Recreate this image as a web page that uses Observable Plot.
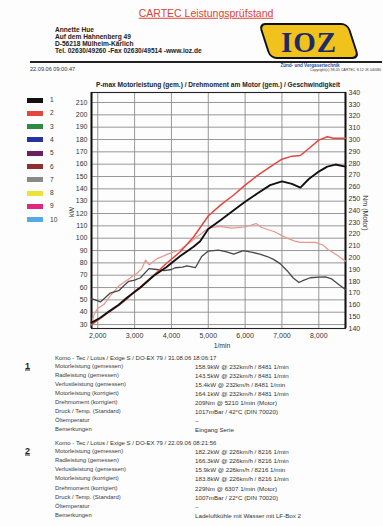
<!DOCTYPE html>
<html><head><meta charset="utf-8">
<script src="https://cdn.jsdelivr.net/npm/d3@7"></script>
<script src="https://cdn.jsdelivr.net/npm/@observablehq/plot@0.6"></script>
<style>
html,body{margin:0;padding:0;background:#fff;}
#page{position:relative;width:383px;height:526px;overflow:hidden;background:#fdfdfd;font-family:"Liberation Sans",Arial,sans-serif;color:#333;}
.t{position:absolute;white-space:nowrap;line-height:1;transform:translateY(-50%);}
.c{transform:translate(-50%,-50%);}
#chart{position:absolute;left:0;top:88px;}
</style></head>
<body><div id="page"><div id="chart"></div></div>
<script>
// ---------- data ----------
const rpmTicks = [2000, 3000, 4000, 5000, 6000, 7000, 8000];
const kwTicks = [30, 40, 50, 60, 70, 80, 90, 100, 110, 120, 130, 140, 150, 160, 170, 180, 190, 200, 210];
const nmTicks = [140, 150, 160, 170, 180, 190, 200, 210, 220, 230, 240, 250, 260, 270, 280, 290, 300, 310, 320, 330, 340];
const legendLabels = ["1","2","3","4","5","6","7","8","9","10"];
const legendColors = ["#111111","#e4473e","#2f8a45","#26339e","#6a1f62","#8e2f2c","#8a8a8a","#ece23a","#e0267e","#55a9e6"];

// Run 1 (black): engine power kW
const rpmPower1 = [1830, 2070, 2300, 2570, 2800, 3160, 3520, 3860, 4240, 4600, 4780, 5000, 5330, 5690, 6000, 6320, 6680, 7000, 7270, 7500, 7730, 8000, 8230, 8450, 8725];
const kwPower1  = [31.6, 35.5, 40.5, 46, 52, 60, 69.5, 76.5, 85.5, 93, 97.5, 107.5, 114.6, 122.7, 129.5, 136, 143, 146, 144, 141, 148, 154, 158, 159.7, 158];
// Run 2 (red): engine power kW
const rpmPower2 = [1830, 2070, 2300, 2570, 2800, 3000, 3160, 3520, 3860, 4240, 4600, 5000, 5330, 5690, 6000, 6320, 6680, 7000, 7270, 7500, 7730, 8000, 8230, 8400, 8725];
const kwPower2  = [30, 35, 40, 45.5, 51, 57, 60.5, 70, 79.5, 89, 101, 118, 126.8, 135, 143, 150.5, 157.8, 164, 166.5, 167, 172.7, 179.5, 182.2, 181, 181];
// Run 1 torque Nm
const rpmTorque1 = [1830, 1950, 2070, 2200, 2340, 2450, 2570, 2700, 2840, 3000, 3160, 3390, 3600, 3800, 4000, 4100, 4300, 4420, 4650, 4820, 5000, 5280, 5500, 5690, 5950, 6200, 6400, 6600, 6770, 6950, 7140, 7300, 7460, 7600, 7770, 8000, 8180, 8350, 8550, 8725];
const nmTorque1  = [165.4, 164, 162.5, 166, 170, 171, 172, 176, 180, 181, 183, 190.7, 190, 189, 190, 191.5, 192, 193, 191.5, 201, 205.6, 206.5, 205, 203, 206, 204.5, 203, 201, 198.6, 195, 189, 183, 179, 181, 183, 183.5, 183.7, 182, 177, 173];
// Run 2 torque Nm
const rpmTorque2 = [1830, 1900, 2000, 2170, 2340, 2570, 2840, 3070, 3200, 3300, 3400, 3600, 3900, 4250, 4600, 5000, 5300, 5650, 6000, 6300, 6450, 6800, 7100, 7350, 7500, 7900, 8100, 8250, 8500, 8725];
const nmTorque2  = [143, 152, 157, 160.5, 167.6, 176, 182, 187, 191, 198, 194, 199, 203, 207, 215.5, 225, 226.5, 225, 226, 229, 225.6, 222, 217, 214, 213, 213, 211, 207, 202, 197];

const runHeaders = ["Komo - Tec / Lotus / Exige S / DO-EX 79 / 31.08.06 18:06:17",
                    "Komo - Tec / Lotus / Exige S / DO-EX 79 / 22.09.06 08:21:56"];
const rowLabels = ["Motorleistung (gemessen)","Radleistung (gemessen)","Verlustleistung (gemessen)","Motorleistung (korrigiert)","Drehmoment (korrigiert)","Druck / Temp. (Standard)","Öltemperatur","Bemerkungen"];
const run1Values = ["158.9kW @ 232km/h / 8481 1/min","143.5kW @ 232km/h / 8481 1/min","15.4kW @ 232km/h / 8481 1/min","164.1kW @ 232km/h / 8481 1/min","209Nm @ 5210 1/min (Motor)","1017mBar / 42°C    (DIN 70020)","–","Eingang Serie"];
const run2Values = ["182.2kW @ 226km/h / 8216 1/min","166.3kW @ 226km/h / 8216 1/min","15.9kW @ 226km/h / 8216 1/min","183.8kW @ 226km/h / 8216 1/min","229Nm @ 6307 1/min (Motor)","1007mBar / 22°C    (DIN 70020)","–","Ladeluftkühle mit Wasser mit LF-Box 2"];

// ---------- scales ----------
const X_DOMAIN = [1830, 8725];
const KW_DOMAIN = [26.8, 218.1];
const NM_DOMAIN = [140, 340];
const nmToKw = n => KW_DOMAIN[0] + (n - NM_DOMAIN[0]) * (KW_DOMAIN[1] - KW_DOMAIN[0]) / (NM_DOMAIN[1] - NM_DOMAIN[0]);
const kwToNm = k => NM_DOMAIN[0] + (k - KW_DOMAIN[0]) * (NM_DOMAIN[1] - NM_DOMAIN[0]) / (KW_DOMAIN[1] - KW_DOMAIN[0]);

const power1 = rpmPower1.map((r, i) => ({rpm: r, v: kwPower1[i]}));
const power2 = rpmPower2.map((r, i) => ({rpm: r, v: kwPower2[i]}));
const torque1 = rpmTorque1.map((r, i) => ({rpm: r, v: nmToKw(nmTorque1[i])}));
const torque2 = rpmTorque2.map((r, i) => ({rpm: r, v: nmToKw(nmTorque2[i])}));

const chart = Plot.plot({
  width: 383, height: 262,
  marginLeft: 91, marginRight: 38, marginTop: 4, marginBottom: 22,
  x: {domain: X_DOMAIN, axis: null},
  y: {domain: KW_DOMAIN, axis: null},
  style: {fontFamily: "Liberation Sans, Arial, sans-serif", fontSize: "7px", color: "#333", background: "transparent", overflow: "visible"},
  marks: [
    Plot.gridY(kwTicks, {stroke: "#8c8c8c", strokeOpacity: 1, strokeWidth: 0.9}),
    Plot.gridX(rpmTicks, {stroke: "#8c8c8c", strokeOpacity: 1, strokeWidth: 0.9}),
    Plot.frame({stroke: "#222", strokeWidth: 1.1}),
    Plot.ruleX(X_DOMAIN, {stroke: "#111", strokeWidth: 2}),
    Plot.line(torque2, {x: "rpm", y: "v", stroke: "#e9968c", strokeWidth: 1.2}),
    Plot.line(torque1, {x: "rpm", y: "v", stroke: "#474747", strokeWidth: 1.3}),
    Plot.line(power2, {x: "rpm", y: "v", stroke: "#e2473e", strokeWidth: 1.5}),
    Plot.line(power1, {x: "rpm", y: "v", stroke: "#111", strokeWidth: 1.9}),
    Plot.axisY(kwTicks, {anchor: "left", tickSize: 0, tickPadding: 4, label: null}),
    Plot.axisY(nmTicks.map(nmToKw), {anchor: "right", tickSize: 0, tickPadding: 3, label: null,
      tickFormat: k => String(Math.round(kwToNm(k)))}),
    Plot.axisX(rpmTicks, {anchor: "bottom", tickSize: 0, tickPadding: 5, label: null, tickFormat: d3.format(",")})
  ]
});
document.getElementById("chart").appendChild(chart);

// ---------- surrounding text ----------
const page = document.getElementById("page");
function T(txt, x, y, css = "", cls = "t") {
  const d = document.createElement("div");
  d.className = cls;
  d.textContent = txt;
  d.style.cssText = `left:${x}px;top:${y}px;` + css;
  page.appendChild(d);
  return d;
}
function box(x, y, w, h, css) {
  const d = document.createElement("div");
  d.style.cssText = `position:absolute;left:${x}px;top:${y}px;width:${w}px;height:${h}px;` + css;
  page.appendChild(d);
  return d;
}

// header
T("CARTEC Leistungsprüfstand", 206, 13, "font-size:10.5px;color:#d9443a;text-decoration:underline;", "t c");
const addr = ["Annette Hue", "Auf dem Hahnenberg 49", "D-56218 Mülheim-Kärlich", "Tel. 02630/49260 -Fax 02630/49514 -www.ioz.de"];
addr.forEach((a, i) => T(a, 55, 29.5 + i * 7, "font-size:6.6px;font-weight:bold;color:#222;"));
// logo
box(264, 23, 90, 36, "background:#f1c21b;border:2px solid #111;border-radius:7px;transform:skewX(18deg);box-sizing:border-box;");
T("IOZ", 309, 42, "font-family:'Liberation Serif','DejaVu Serif',serif;font-weight:bold;font-size:29px;color:#1d2b6b;letter-spacing:1px;", "t c");
T("Zünd- und Vergasertechnik", 310, 66, "font-size:4.6px;font-weight:bold;color:#2c4c9c;", "t c");
box(30, 61, 352, 1.6, "background:#222;");
T("22.09.06 09:00:47", 30, 70, "font-size:5.6px;color:#333;");
T("Copyright(c) 98-05 CARTEC S.12 JK 04/080", 381, 71, "font-size:3.6px;color:#333;transform:translate(-100%,-50%);");

// chart title & axis labels
T("P-max Motorleistung (gem.) / Drehmoment am Motor (gem.) / Geschwindigkeit", 218, 84.5, "font-size:6.6px;font-weight:bold;color:#222;", "t c");
T("kW", 71, 212, "font-size:7px;color:#333;transform:translate(-50%,-50%) rotate(-90deg);");
T("Nm (Motor)", 365, 213, "font-size:7px;color:#333;transform:translate(-50%,-50%) rotate(90deg);");
T("1/min", 222, 346, "font-size:6.8px;color:#333;", "t c");

// legend
legendLabels.forEach((lab, i) => {
  const y = 100 + i * 13.3;
  box(27, y - 2.5, 16, 5, `background:${legendColors[i]};`);
  T(lab, 50, y, "font-size:6.6px;color:#333;");
});

// run blocks
function runBlock(num, header, values, y0, step) {
  T(header, 55, y0, "font-size:6px;color:#333;");
  T(num, 25, y0 + step * 0.9, "font-size:9px;font-weight:bold;color:#222;text-decoration:underline;");
  rowLabels.forEach((lab, i) => {
    const y = y0 + step * (i + 1);
    T(lab, 55, y, "font-size:5.9px;color:#3a3a3a;");
    T(values[i], 195, y, "font-size:6.2px;color:#333;");
  });
}
runBlock("1", runHeaders[0], run1Values, 358, 9);
runBlock("2", runHeaders[1], run2Values, 443, 9.1);
</script></body></html>
